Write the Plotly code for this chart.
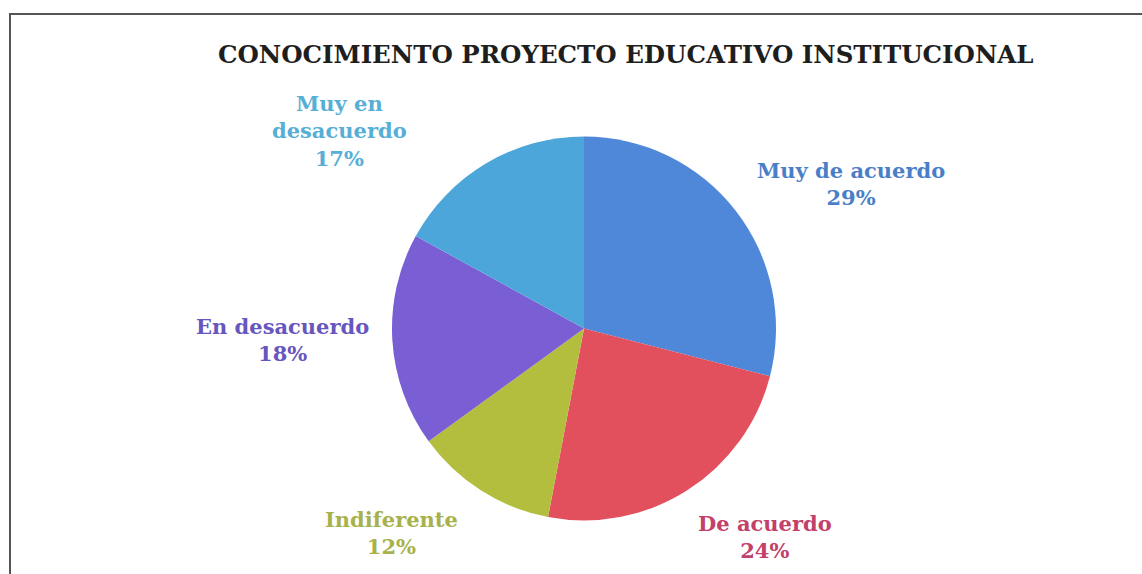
import plotly.graph_objects as go

# Survey results: knowledge of the institutional educational project
categories = ["Muy de acuerdo", "De acuerdo", "Indiferente", "En desacuerdo", "Muy en desacuerdo"]
percentages = [29, 24, 12, 18, 17]
label_lines = ["Muy de acuerdo", "De acuerdo", "Indiferente", "En desacuerdo", "Muy en<br>desacuerdo"]

slice_colors = ["#4F87D9", "#E2505E", "#B4BE3E", "#7A5ED4", "#4DA6DA"]
label_colors = ["#4A7FC8", "#C2406A", "#A7B24A", "#6656BE", "#57AED6"]

# Label anchor points (paper pixels) for the outside labels
label_x = [851, 765, 392, 282, 339]
label_y = [184, 537, 533, 340, 131]

W, H = 1142, 574

fig = go.Figure(
    go.Pie(
        labels=categories,
        values=percentages,
        sort=False,
        direction="clockwise",
        rotation=0,
        marker=dict(colors=slice_colors, line=dict(width=0)),
        textinfo="none",
        hoverinfo="label+percent",
        showlegend=False,
        domain=dict(x=[(584 - 192) / W, (584 + 192) / W],
                    y=[1 - 521 / H, 1 - 136 / H]),
    )
)

for name, val, col, lx, ly in zip(label_lines, percentages, label_colors, label_x, label_y):
    fig.add_annotation(
        x=lx / W, y=1 - ly / H, xref="paper", yref="paper",
        text=f"<b>{name}<br>{val}%</b>",
        showarrow=False, align="center",
        font=dict(family="DejaVu Serif", size=21, color=col),
        xanchor="center", yanchor="middle",
    )

fig.add_annotation(
    x=626 / W, y=1 - 55 / H, xref="paper", yref="paper",
    text="<b>CONOCIMIENTO PROYECTO EDUCATIVO INSTITUCIONAL</b>",
    showarrow=False, xanchor="center", yanchor="middle",
    font=dict(family="DejaVu Serif", size=24.5, color="#1E1E1E"),
)

# Chart frame
fig.add_shape(type="rect", xref="paper", yref="paper",
              x0=10 / W, x1=1.01, y0=-0.01, y1=1 - 14 / H,
              line=dict(color="#555555", width=2))

fig.update_layout(
    width=W, height=H,
    margin=dict(l=0, r=0, t=0, b=0),
    paper_bgcolor="white", plot_bgcolor="white",
)

fig.write_html("out.html")
